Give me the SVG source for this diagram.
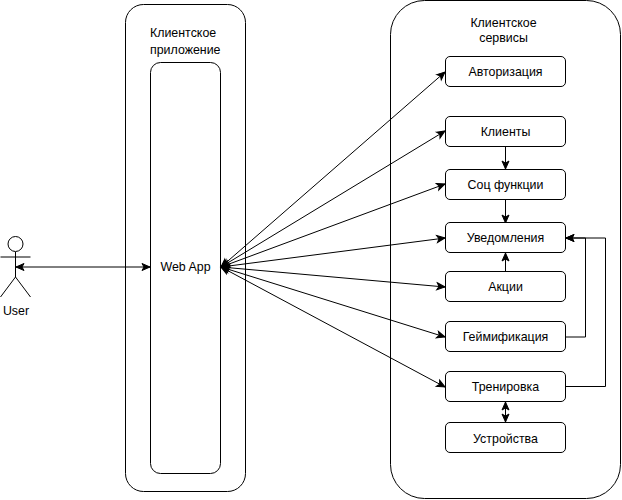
<svg xmlns="http://www.w3.org/2000/svg" width="622" height="500" viewBox="0 0 622 500">
<style>
text{font-family:"Liberation Sans",Arial,sans-serif;font-size:12.400px;fill:#000;text-anchor:middle}
.b{fill:#fff;stroke:#000;stroke-width:1}
.c{fill:none;stroke:#000;stroke-width:1}
.a{marker-end:url(#m)}
.d{marker-start:url(#s);marker-end:url(#m)}
</style>
<defs>
<marker id="m" markerUnits="userSpaceOnUse" markerWidth="10" markerHeight="10" refX="8" refY="4" orient="auto" overflow="visible"><path d="M0 0.500L8 4L0 7.500L2 4Z" fill="#000" stroke="#000" stroke-width="1"/></marker>
<marker id="s" markerUnits="userSpaceOnUse" markerWidth="10" markerHeight="10" refX="0" refY="4" orient="auto" overflow="visible"><path d="M8 0.500L0 4L8 7.500L6 4Z" fill="#000" stroke="#000" stroke-width="1"/></marker>
</defs>
<g id="client-app"><rect class="b" x="125.500" y="4.500" width="120" height="487" rx="18"/><text x="150" y="37" style="text-anchor:start">Клиентское</text><text x="150" y="54" style="text-anchor:start">приложение</text></g>
<g id="client-services"><rect class="b" x="390.500" y="0.500" width="230" height="498" rx="34"/><text x="503.500" y="27">Клиентское</text><text x="503.500" y="42">сервисы</text></g>
<g id="web-app"><rect class="b" x="150.500" y="62.500" width="70" height="411" rx="10"/><text x="185.500" y="271">Web App</text></g>
<g id="user"><circle class="c" cx="15.500" cy="244" r="7.500"/><path class="c" d="M15.500 252V277M0.500 257H30.500M15.500 277L0.500 297M15.500 277L30.500 297"/><text x="16" y="315">User</text></g>
<g id="connectors">
<path class="c d" d="M16 267H150"/>
<path class="c d" d="M221 267L445 72"/>
<path class="c d" d="M221 267L445 131"/>
<path class="c d" d="M221 267L445 184"/>
<path class="c d" d="M221 267L445 238"/>
<path class="c d" d="M221 267L445 287"/>
<path class="c d" d="M221 267L445 337"/>
<path class="c d" d="M221 267L445 387"/>
<path class="c a" d="M505.500 146V169"/>
<path class="c a" d="M505.500 199V223"/>
<path class="c a" d="M505.500 272V253"/>
<path class="c d" d="M505.500 402V422"/>
<path class="c a" d="M566 337H585.500V238H566"/>
<path class="c a" d="M566 386.500H605.500V238H566"/>
</g>
<g id="n-auth"><rect class="b" x="445.500" y="56.500" width="120" height="30" rx="4.500"/><text x="505.500" y="76">Авторизация</text></g>
<g id="n-clients"><rect class="b" x="445.500" y="116.500" width="120" height="30" rx="4.500"/><text x="505.500" y="136">Клиенты</text></g>
<g id="n-social"><rect class="b" x="445.500" y="169.500" width="120" height="30" rx="4.500"/><text x="505.500" y="189">Соц функции</text></g>
<g id="n-notify"><rect class="b" x="445.500" y="222.500" width="120" height="30" rx="4.500"/><text x="505.500" y="242">Уведомления</text></g>
<g id="n-promo"><rect class="b" x="445.500" y="271.500" width="120" height="30" rx="4.500"/><text x="505.500" y="291">Акции</text></g>
<g id="n-game"><rect class="b" x="445.500" y="321.500" width="120" height="30" rx="4.500"/><text x="505.500" y="341">Геймификация</text></g>
<g id="n-train"><rect class="b" x="445.500" y="371.500" width="120" height="30" rx="4.500"/><text x="505.500" y="391">Тренировка</text></g>
<g id="n-devices"><rect class="b" x="445.500" y="422.500" width="120" height="30" rx="4.500"/><text x="505.500" y="443">Устройства</text></g>
</svg>
